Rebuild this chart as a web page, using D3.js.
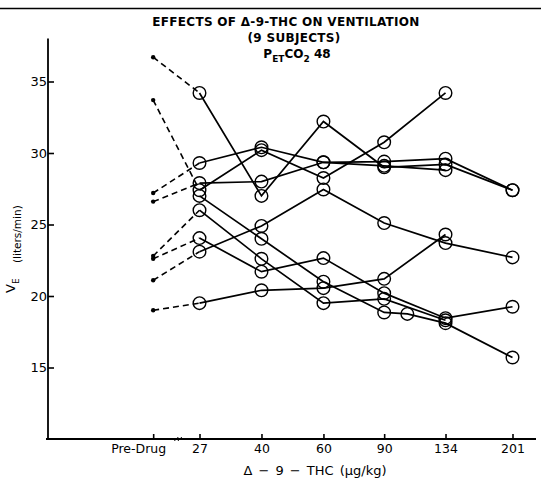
<!DOCTYPE html>
<html>
<head>
<meta charset="utf-8">
<script src="https://cdn.jsdelivr.net/npm/d3@7"></script>
<style>
  html, body { margin: 0; padding: 0; background: #fff; }
  svg { display: block; }
  text { font-family: "DejaVu Sans", sans-serif; fill: #000; }
</style>
</head>
<body>
<svg id="chart" width="541" height="479"></svg>
<script>
// ---- data ----
const columns = ["Pre-Drug", "27", "40", "60", "90", "", "134", "201"]; // "" = unlabelled intermediate dose
const slots   = [-0.74, 0, 0.99, 1.98, 2.95, 3.32, 3.93, 5];
const yTicks  = [15, 20, 25, 30, 35];

const s1 = [36.7, 34.2, 27.0, 32.2, 29.0, null, 29.2, 27.4];
const s2 = [27.2, 29.3, 30.4, 29.35, 29.4, null, 29.6, 27.4];
const s3 = [33.7, 27.4, 30.2, 28.25, 30.75, null, 34.2, null];
const s4 = [21.1, 23.1, 24.9, 27.45, 25.1, null, 23.7, 22.7];
const s5 = [26.6, 27.9, 28.0, 29.35, 29.1, null, 28.8, null];
const s6 = [null, 27.0, 24.0, 21.0, 18.85, 18.75, 18.1, 15.7];
const s7 = [22.6, 24.05, 21.7, 22.65, 20.2, null, 18.45, 19.25];
const s8 = [22.8, 26.0, 22.6, 19.5, 19.8, null, 18.3, null];
const s9 = [19.0, 19.5, 20.4, 20.55, 21.2, null, 24.3, null];
const subjects = [s1, s2, s3, s4, s5, s6, s7, s8, s9];

// ---- scales ----
const svg = d3.select("#chart");
const x = d3.scaleLinear().domain([0, 5]).range([199.5, 512.5]);
const y = d3.scaleLinear().domain([10, 38]).range([439, 38.6]);
const axisX0 = 48;

// frame line at top of scan
svg.append("line").attr("x1", 0).attr("x2", 541).attr("y1", 8.5).attr("y2", 8.5)
  .attr("stroke", "#000").attr("stroke-width", 1.5);

// ---- y axis ----
const yAxis = d3.axisLeft(y).tickValues(yTicks).tickSize(-6).tickPadding(1);
const gy = svg.append("g").attr("transform", `translate(${axisX0},0)`).call(yAxis);
gy.select(".domain").remove();
gy.selectAll(".tick line").attr("stroke-width", 1.6);
gy.selectAll(".tick text").style("font-size", "13px").style("font-family", "DejaVu Sans");
svg.append("line").attr("x1", axisX0).attr("x2", axisX0).attr("y1", y(38)).attr("y2", y(10))
  .attr("stroke", "#000").attr("stroke-width", 1.8);

// ---- x axis ----
const labelled = columns.map((c, i) => ({ c, i })).filter(d => d.c !== "");
const xAxis = d3.axisBottom(x).tickValues(labelled.map(d => slots[d.i]))
  .tickFormat((v, k) => labelled[k].c).tickSize(-5).tickPadding(5.5);
const gx = svg.append("g").attr("transform", `translate(0,${y(10)})`).call(xAxis);
gx.select(".domain").remove();
gx.selectAll(".tick line").attr("stroke-width", 1.6);
gx.selectAll(".tick text").style("font-size", "12.5px").style("font-family", "DejaVu Sans")
  .attr("dx", (d, k) => k === 0 ? -15 : 0);
svg.append("line").attr("x1", axisX0 - 2).attr("x2", 536).attr("y1", y(10)).attr("y2", y(10))
  .attr("stroke", "#000").attr("stroke-width", 1.8);
// axis break mark
const bx = (x(slots[0]) + x(slots[1])) / 2 + 2;
[-2, 1.5].forEach(o => {
  svg.append("line").attr("x1", bx + o - 2).attr("x2", bx + o + 2)
    .attr("y1", y(10) + 2).attr("y2", y(10) - 2).attr("stroke", "#000").attr("stroke-width", 1);
});

// ---- lines ----
const line = d3.line().x(d => x(d.s)).y(d => y(d.v));
subjects.forEach(s => {
  const pts = s.map((v, i) => ({ v, s: slots[i], i })).filter(d => d.v !== null);
  const pre = pts.filter(d => d.i === 0);
  const post = pts.filter(d => d.i > 0);
  if (pre.length) {
    svg.append("path").attr("d", line([pre[0], post[0]]))
      .attr("fill", "none").attr("stroke", "#000").attr("stroke-width", 1.6)
      .attr("stroke-dasharray", "6,4");
    svg.append("circle").attr("cx", x(pre[0].s)).attr("cy", y(pre[0].v)).attr("r", 2.2)
      .attr("fill", "#000");
  }
  svg.append("path").attr("d", line(post))
    .attr("fill", "none").attr("stroke", "#000").attr("stroke-width", 1.7);
  svg.selectAll(null).data(post).enter().append("circle")
    .attr("cx", d => x(d.s)).attr("cy", d => y(d.v)).attr("r", 6.3)
    .attr("fill", "none").attr("stroke", "#000").attr("stroke-width", 1.4);
});

// ---- titles ----
svg.append("text").attr("x", 286).attr("y", 26).attr("text-anchor", "middle")
  .style("font-size", "12px").style("font-weight", "bold").style("letter-spacing", "0.3px")
  .text("EFFECTS OF \u0394-9-THC ON VENTILATION");
svg.append("text").attr("x", 294).attr("y", 42).attr("text-anchor", "middle")
  .style("font-size", "12px").style("font-weight", "bold").style("letter-spacing", "0.3px")
  .text("(9 SUBJECTS)");
const t3 = svg.append("text").attr("x", 297).attr("y", 58).attr("text-anchor", "middle")
  .style("font-size", "12px").style("font-weight", "bold");
t3.append("tspan").text("P");
t3.append("tspan").attr("dy", 4).style("font-size", "9px").text("ET");
t3.append("tspan").attr("dy", -4).text("CO");
t3.append("tspan").attr("dy", 4).style("font-size", "9px").text("2");
t3.append("tspan").attr("dy", -4).text(" 48");

// x axis title
svg.append("text").attr("x", 315).attr("y", 475).attr("text-anchor", "middle")
  .style("font-size", "13px").style("word-spacing", "2px")
  .text("\u0394 \u2212 9 \u2212 THC (\u03bcg/kg)");

// y axis title
const yl = svg.append("text").attr("transform", "translate(15,293) rotate(-90)")
  .style("font-size", "13px");
yl.append("tspan").text("V");
yl.append("tspan").attr("dy", 4).style("font-size", "9px").text("E");
svg.append("text").attr("transform", "translate(21,263) rotate(-90)")
  .style("font-size", "10.5px").text("(liters/min)");
</script>
</body>
</html>
